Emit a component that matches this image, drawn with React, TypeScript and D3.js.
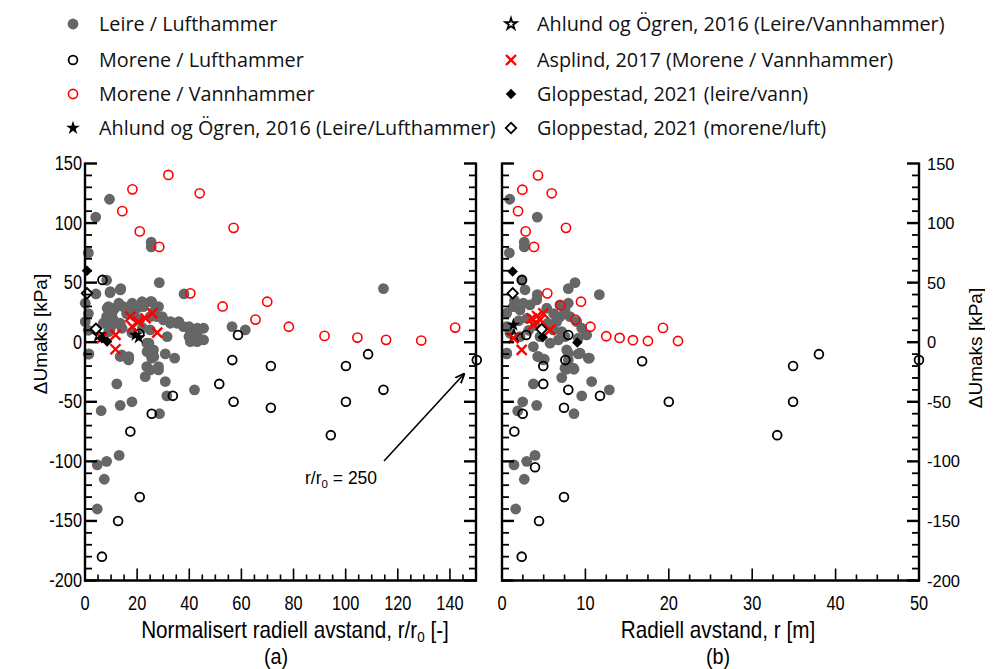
import React from "react";
import * as d3 from "d3";

type P = [number, number];

// ---------- Panel (a): normalised radial distance r/r0 ----------
const leireLuftA: P[] = [
  [9.4, 120], [4.1, 105], [25.4, 84], [25.4, 80], [1.3, 75], [28.5, 50], [8.3, 52], [13.7, 45], [9.6, 41.6],
  [38, 40.5], [4.2, 40.5], [1.3, 24], [1.3, 10], [1.3, -10], [114.5, 45],
  [9.0, 29.9], [11.5, 28.5], [14.7, 29.9], [17.3, 29.9], [19.9, 28.5], [22.4, 29.9], [25.6, 34], [28.2, 29.9],
  [25, 21.5], [27.6, 21.5], [30.1, 18.7], [32.7, 15.9], [35.3, 15.9], [37.8, 13.1], [40.4, 8.9], [43, 6.1],
  [45.5, 11.7], [45.5, 1.9], [40.4, 0.5], [43, 0.5], [8.3, 21.5], [10.9, 18.7], [13.5, 15.9], [9.6, 10.3],
  [7, 15.9], [25, 10.3], [23.7, -0.8], [26.3, -6.5], [14.1, -10.7], [16.7, -13.4], [25.6, -13.4], [30.8, -9.8],
  [34.4, -13.4], [56.4, 13.1], [61.5, 10.3], [23.7, -20.5], [28.2, -20.5],
  [1.5, -9.8], [13.5, -12], [16.7, -14.9], [25.6, -11.5], [23.1, -28.9], [25, -23.3], [28.2, -23.3],
  [30.8, -33], [12.2, -35], [31.4, -45], [42, -40], [18, -50], [13.5, -53], [6.2, -57.5], [28.6, -60],
  [13.1, -95], [8.3, -100], [4.7, -103], [7.4, -115], [4.7, -140],
  [13.6, 43.9], [9.7, 42.5], [8.5, 28.5], [10.4, 24.3], [13, 32.7], [18.1, 32.7], [21.9, 34], [25.1, 34],
  [26.4, 25.7], [29.6, 21.5], [32.8, 17.3], [36, 17.3], [39.9, 13.1], [43.1, 11.7], [39.9, 4.7], [43.1, 3.4],
  [31.5, 4.7], [24.5, -0.8], [23.8, -7.9], [26.4, -12.1], [16.8, -12.1], [11.7, 15.9], [14.2, 11.7],
  [9.1, 8.9], [7.8, 17.3], [0.1, 17.3], [0.1, 32.7], [19, 22], [21, 19], [16, 24], [22, 12], [18, 8],
];
const moreneLuftA: P[] = [
  [6.7, 52.3], [58.7, 6], [56.5, -15], [71.3, -20], [20.9, 7], [51.5, -35], [57, -50], [71.3, -55],
  [33.7, -45], [25.6, -60], [17.4, -75], [21, -130], [12.7, -150], [6.5, -180], [100.1, -20], [108.6, -10],
  [100.1, -50], [114.5, -40], [94.3, -78], [150.3, -15],
];
const moreneVannA: P[] = [
  [32.0, 140.4], [18.2, 128.3], [44.0, 125], [14.3, 110], [21, 93], [57.0, 96], [28.5, 80], [40.4, 41],
  [52.8, 30], [69.9, 34], [65.4, 19], [78.2, 13], [91.9, 5.3], [104.5, 3.9], [115.5, 2], [129, 1.4],
  [142, 12.3],
];
const ahlundLuftA: P[] = [[19.4, 6.1], [20.6, 3.9]];
const ahlundVannA: P[] = [[5.3, 6.1]];
const asplindA: P[] = [
  [17.4, 21.5], [20.6, 17.3], [23.2, 20.1], [25.8, 24.3], [18.1, 13.1], [27.7, 8.1], [6.5, 3.4], [11.7, 6.1], [11.7, -5.9],
];
const glopLeireA: P[] = [[0.77, 60], [6.5, 3.4], [8.5, 0.5]];
const glopMoreneA: P[] = [[0.77, 41], [4.2, 11.2]];

// ---------- Panel (b): radial distance r [m] ----------
const leireLuftB: P[] = [
  [0.92, 120], [4.23, 105], [2.67, 84], [2.67, 80], [0.88, 75], [8.75, 50], [7.95, 45], [11.67, 40],
  [4.23, 40], [2.76, 44], [2.36, 52],
  [2.56, 32.7], [2.16, 27.1], [1.36, 29.9], [0.56, 24.3], [3.36, 31.3], [4.16, 35.5], [5.36, 28.5],
  [6.95, 31.3], [7.95, 32.7], [7.55, 27.1], [6.95, 21.5], [8.15, 21.5], [8.96, 17.3], [9.56, 11.7],
  [6.56, 17.3], [6.15, 10.3], [7.16, 8.9], [7.55, 4.7], [6.75, 1.9], [9.15, 3.4], [10.15, 6.1],
  [0.56, -9.2], [2.16, 4.7], [0.96, 7.5], [0.56, 13.1], [4.56, 4.7], [3.76, -3.7], [5.76, -0.8],
  [4.36, -12.1], [4.96, -14.9], [7.76, -6.5], [7.95, -14.9], [9.35, -9.2], [10.35, -13.4], [7.55, -21.8],
  [8.55, -21.8], [0.56, -9.8], [4.28, -12], [5.07, -14.3], [7.95, -9.2], [9.15, -9.8], [10.47, -13.4],
  [7.76, -22.7], [8.63, -22.7], [7.16, -29.7], [3.76, -35], [10.75, -33], [12.87, -40], [9.56, -45],
  [2.48, -50], [4.16, -53], [1.88, -57.7], [8.63, -60], [3.96, -95], [2.96, -100], [1.44, -103],
  [2.67, -115], [1.64, -140], [3.0, 20], [4.0, 14], [5.5, 16], [6.2, 24], [2.0, 18], [3.2, 10], [1.5, 35],
];
const moreneLuftB: P[] = [
  [2.4, 52.3], [2.9, 6], [7.95, 6], [4.95, -20], [7.6, -15], [16.8, -16], [4.95, -35], [7.95, -40],
  [11.75, -45], [7.43, -55], [2.48, -60], [1.48, -75], [3.96, -105], [7.43, -130], [4.44, -150],
  [2.36, -180], [20, -50], [33, -78], [34.9, -20], [34.9, -50], [38, -10], [50, -15],
];
const moreneVannB: P[] = [
  [4.32, 140], [2.44, 128], [5.96, 125], [1.92, 110], [2.84, 93], [7.67, 96], [3.84, 80], [5.43, 41],
  [9.47, 34], [8.79, 19], [10.6, 13], [12.5, 5], [14.1, 3.6], [15.7, 1.7], [17.5, 1], [19.3, 12],
  [21.1, 1], [7.0, 31],
];
const ahlundLuftB: P[] = [[1.36, 14.5]];
const ahlundVannB: P[] = [[1.44, 5.3]];
const asplindB: P[] = [
  [3.56, 20.1], [4.95, 24.3], [3.76, 14.5], [4.56, 18.7], [5.76, 10.3], [1.36, 3.4], [2.36, -6.5], [4.2, 22],
];
const glopLeireB: P[] = [[1.28, 59.3], [4.88, 4.2], [9.03, -0.3]];
const glopMoreneB: P[] = [[1.28, 41], [4.76, 10.9]];

// ---------- Axes / labels ----------
const yTicks = [150, 100, 50, 0, -50, -100, -150, -200];
const xTicksA = [0, 20, 40, 60, 80, 100, 120, 140];
const xTicksB = [0, 10, 20, 30, 40, 50];
const legendLeft = ["Leire / Lufthammer", "Morene / Lufthammer", "Morene / Vannhammer", "Ahlund og Ögren, 2016 (Leire/Lufthammer)"];
const legendRight = ["Ahlund og Ögren, 2016 (Leire/Vannhammer)", "Asplind, 2017 (Morene / Vannhammer)", "Gloppestad, 2021 (leire/vann)", "Gloppestad, 2021 (morene/luft)"];

const GREY = "#666666";
const RED = "#ff0000";
const SANS = "'Liberation Sans', Arial, sans-serif";
const LEG = "'Open Sans', 'Noto Sans', sans-serif";

const Y0 = 163.5, Y1 = 580.5;
const yScale = d3.scaleLinear().domain([150, -200]).range([Y0, Y1]);
const xA = d3.scaleLinear().domain([0, 150]).range([85, 476]);
const xB = d3.scaleLinear().domain([0, 50]).range([502, 919]);

const starPath = d3.symbol().type(d3.symbolStar).size(60)() as string;
const starPathSmall = d3.symbol().type(d3.symbolStar).size(40)() as string;
const diamondPath = d3.symbol().type(d3.symbolSquare).size(55)() as string;

// narrow-looking text (horizontal squeeze)
function NText({ x, y, size, anchor, s = 0.84, children }: { x: number; y: number; size: number; anchor: "start" | "middle" | "end"; s?: number; children: React.ReactNode }) {
  return (
    <text transform={`translate(${x},${y}) scale(${s},1)`} textAnchor={anchor} fontFamily={SANS} fontSize={size}>
      {children}
    </text>
  );
}

function Marker({ kind, x, y }: { kind: string; x: number; y: number }) {
  switch (kind) {
    case "grey":
      return <circle cx={x} cy={y} r={5.4} fill={GREY} />;
    case "blackO":
      return <circle cx={x} cy={y} r={4.4} fill="none" stroke="#000" strokeWidth={1.8} />;
    case "redO":
      return <circle cx={x} cy={y} r={4.6} fill="none" stroke={RED} strokeWidth={1.6} />;
    case "star":
      return <path d={starPath} transform={`translate(${x},${y})`} fill="#000" />;
    case "starO":
      return <path d={starPathSmall} transform={`translate(${x},${y})`} fill="#fff" stroke="#000" strokeWidth={1.8} />;
    case "x":
      return (
        <g stroke={RED} strokeWidth={2.4}>
          <line x1={x - 5} y1={y - 5} x2={x + 5} y2={y + 5} />
          <line x1={x - 5} y1={y + 5} x2={x + 5} y2={y - 5} />
        </g>
      );
    case "dia":
      return <path d={diamondPath} transform={`translate(${x},${y}) rotate(45)`} fill="#000" />;
    case "diaO":
      return <path d={diamondPath} transform={`translate(${x},${y}) rotate(45)`} fill="#fff" stroke="#000" strokeWidth={1.8} />;
    default:
      return null;
  }
}

function Series({ data, kind, xs }: { data: P[]; kind: string; xs: d3.ScaleLinear<number, number> }) {
  return (
    <g>
      {data.map((d, i) => (
        <Marker key={i} kind={kind} x={xs(d[0])} y={yScale(d[1])} />
      ))}
    </g>
  );
}

function YAxis({ x, dir, labels }: { x: number; dir: 1 | -1; labels: "left" | "right" | "none" }) {
  const minor = d3.range(-200, 151, 10);
  return (
    <g>
      <line x1={x} x2={x} y1={Y0 - 1} y2={Y1 + 1} stroke="#000" strokeWidth={2.4} />
      {minor.map((v) => {
        const major = v % 50 === 0;
        const len = major ? 12 : 7;
        return <line key={v} x1={x} x2={x + dir * len} y1={yScale(v)} y2={yScale(v)} stroke="#000" strokeWidth={major ? 2.4 : 1.8} />;
      })}
      {labels === "left" &&
        yTicks.map((v) => (
          <NText key={v} x={x - 3} y={yScale(v) + 6.5} size={19.5} anchor="end">
            {v}
          </NText>
        ))}
      {labels === "right" &&
        yTicks.map((v) => (
          <text key={v} x={x + 8} y={yScale(v) + 6} textAnchor="start" fontFamily={SANS} fontSize={16.5}>
            {v}
          </text>
        ))}
    </g>
  );
}

function XAxis({ xs, ticks, minorStep, majorStep }: { xs: d3.ScaleLinear<number, number>; ticks: number[]; minorStep: number; majorStep: number }) {
  const [d0, d1] = xs.domain();
  const minor = d3.range(d0, d1 + 0.001, minorStep);
  return (
    <g>
      <line x1={xs(d0) - 1} x2={xs(d1) + 1} y1={Y1} y2={Y1} stroke="#000" strokeWidth={2.4} />
      {minor.map((v) => {
        const major = Math.abs(v / majorStep - Math.round(v / majorStep)) < 1e-6;
        return <line key={v} x1={xs(v)} x2={xs(v)} y1={Y1} y2={Y1 - (major ? 12 : 6)} stroke="#000" strokeWidth={1.6} />;
      })}
      {ticks.map((v) => (
        <NText key={v} x={xs(v)} y={610} size={19.5} anchor="middle">
          {v}
        </NText>
      ))}
    </g>
  );
}

export default function App() {
  const legRows = [24, 60, 94, 128];
  const leftKinds = ["grey", "blackO", "redO", "star"];
  const rightKinds = ["starO", "x", "dia", "diaO"];
  return (
    <svg width={985} height={661} style={{ display: "block" }} viewBox="8 8 985 661">
      <rect x={0} y={0} width={993} height={669} fill="#fff" />
      {/* legend */}
      {legendLeft.map((t, i) => (
        <g key={t}>
          <Marker kind={leftKinds[i]} x={73} y={legRows[i]} />
          <text x={99} y={legRows[i] + 7} fontFamily={LEG} fontSize={19.8} fill="#111">{t}</text>
        </g>
      ))}
      {legendRight.map((t, i) => (
        <g key={t}>
          <Marker kind={rightKinds[i]} x={511} y={legRows[i]} />
          <text x={537} y={legRows[i] + 7} fontFamily={LEG} fontSize={19.8} fill="#111">{t}</text>
        </g>
      ))}

      {/* panel a */}
      <g>
        <Series data={leireLuftA} kind="grey" xs={xA} />
        <Series data={moreneVannA} kind="redO" xs={xA} />
        <Series data={moreneLuftA} kind="blackO" xs={xA} />
        <Series data={ahlundLuftA} kind="star" xs={xA} />
        <Series data={ahlundVannA} kind="starO" xs={xA} />
        <Series data={asplindA} kind="x" xs={xA} />
        <Series data={glopLeireA} kind="dia" xs={xA} />
        <Series data={glopMoreneA} kind="diaO" xs={xA} />
        <YAxis x={85} dir={1} labels="left" />
        <YAxis x={476} dir={-1} labels="none" />
        <XAxis xs={xA} ticks={xTicksA} minorStep={5} majorStep={20} />
      </g>

      {/* panel b */}
      <g>
        <Series data={leireLuftB} kind="grey" xs={xB} />
        <Series data={moreneVannB} kind="redO" xs={xB} />
        <Series data={moreneLuftB} kind="blackO" xs={xB} />
        <Series data={ahlundLuftB} kind="star" xs={xB} />
        <Series data={ahlundVannB} kind="starO" xs={xB} />
        <Series data={asplindB} kind="x" xs={xB} />
        <Series data={glopLeireB} kind="dia" xs={xB} />
        <Series data={glopMoreneB} kind="diaO" xs={xB} />
        <YAxis x={502} dir={1} labels="none" />
        <YAxis x={919} dir={-1} labels="right" />
        <XAxis xs={xB} ticks={xTicksB} minorStep={2.5} majorStep={10} />
      </g>

      {/* annotation */}
      <defs>
        <marker id="arr" viewBox="0 0 10 10" refX="9" refY="5" markerWidth="10" markerHeight="10" orient="auto" markerUnits="userSpaceOnUse">
          <path d="M0,1 L10,5 L0,9" fill="none" stroke="#000" strokeWidth={1.8} />
        </marker>
      </defs>
      <line x1={384} y1={461} x2={464} y2={374} stroke="#000" strokeWidth={1.6} markerEnd="url(#arr)" />
      <text x={305} y={484} fontFamily={SANS} fontSize={17.5}>
        r/r<tspan fontSize={11.5} dy={4}>0</tspan>
        <tspan dy={-4}> = 250</tspan>
      </text>

      {/* axis titles */}
      <NText x={295} y={638} size={23} s={0.9} anchor="middle">
        Normalisert radiell avstand, r/r<tspan fontSize={15} dy={4}>0</tspan>
        <tspan dy={-4}> [-]</tspan>
      </NText>
      <NText x={276} y={664} size={22} s={0.9} anchor="middle">(a)</NText>
      <NText x={718} y={638} size={23} s={0.9} anchor="middle">Radiell avstand, r [m]</NText>
      <NText x={718} y={664} size={22} s={0.9} anchor="middle">(b)</NText>
      <text transform="translate(47,334) rotate(-90)" textAnchor="middle" fontFamily={SANS} fontSize={19}>ΔUmaks [kPa]</text>
      <text transform="translate(982,348) rotate(-90)" textAnchor="middle" fontFamily={SANS} fontSize={19}>ΔUmaks [kPa]</text>
    </svg>
  );
}
